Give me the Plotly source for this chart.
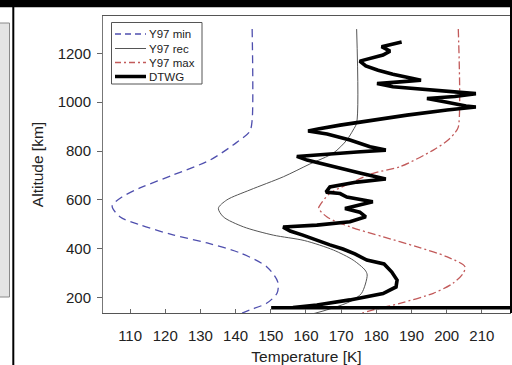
import plotly.graph_objects as go

# ---- data ----
ymin_T = [144.7, 144.7, 144.0, 139.3, 132.7, 122.2, 112.8, 107.7, 104.9, 107.2, 112.8, 122.2, 131.9, 141.3, 148.9, 152.0, 151.8, 148.9, 144.1, 140.4]
ymin_alt = [1299, 927, 880, 825, 763, 702, 649, 612, 575, 530, 498, 457, 424, 383, 326, 264, 219, 178, 150, 129]

yrec_T = [174.4, 174.4, 173.4, 171.6, 167.8, 161.1, 153.6, 144.1, 137.5, 135.1, 136.5, 142.2, 150.7, 159.5, 167.8, 173.4, 176.8, 177.4, 175.8, 172.5, 165.9, 157.4]
yrec_alt = [1299, 915, 886, 845, 792, 747, 695, 641, 600, 566, 531, 490, 456, 434, 395, 354, 313, 293, 218, 184, 150, 117]

ymax_T = [203.3, 203.3, 202.3, 200.4, 196.2, 186.7, 179.1, 172.5, 166.8, 164.0, 163.6, 165.9, 172.5, 182.0, 191.4, 200.0, 205.2, 204.7, 201.8, 196.2, 186.7, 179.1, 172.5]
ymax_alt = [1299, 898, 874, 845, 804, 736, 709, 668, 627, 579, 566, 531, 490, 449, 409, 368, 327, 300, 259, 218, 177, 150, 121]

dtwg_T = [187.2, 181.5, 183.9, 181.9, 175.3, 177.0, 180.5, 184.7, 190.4, 192.7, 186.7, 180.2, 184.7, 196.1, 202.3, 208.3,
          202.3, 194.4, 200.1, 205.5, 208.3, 200.1, 188.7, 179.0, 169.7, 163.4, 160.6, 166.0, 172.5, 178.2, 182.7, 174.5,
          166.0, 157.4, 160.3, 167.7, 175.3, 182.7, 174.5, 166.8, 165.7, 169.7, 171.6, 179.0, 174.5, 171.1, 175.3, 177.0,
          172.5, 163.1, 153.5, 155.5, 159.1, 162.8, 166.8, 170.5, 173.9, 177.3, 182.2, 184.4, 185.9, 185.6, 181.9, 172.5,
          163.1, 156.3, 150.1, 230.0]
dtwg_alt = [1246, 1227, 1209, 1193, 1168, 1148, 1131, 1114, 1097, 1090, 1083, 1076, 1063, 1050, 1041, 1035,
            1023, 1015, 1000, 984, 980, 968, 947, 927, 906, 890, 882, 870, 845, 818, 804, 796,
            788, 778, 763, 736, 710, 686, 673, 653, 632, 626, 612, 593, 579, 565, 550, 531,
            511, 497, 489, 473, 456, 436, 416, 399, 379, 354, 338, 305, 272, 244, 217, 191,
            170, 160, 159, 159]

x_ticks = [110, 120, 130, 140, 150, 160, 170, 180, 190, 200, 210]
y_ticks = [200, 400, 600, 800, 1000, 1200]
legend_names = ["Y97 min", "Y97 rec", "Y97 max", "DTWG"]

BLUE = "#4f4fae"
RED = "#c25a5a"
GREY = "#555555"

W, H = 512, 365
L, R, T, B = 103, 510, 16, 313
PW, PH = R - L, B - T


def px(x):
    return (x - L) / PW


def py(y):
    return (B - y) / PH


fig = go.Figure()
fig.add_trace(go.Scatter(x=ymin_T, y=ymin_alt, mode="lines", name=legend_names[0],
                         line=dict(color=BLUE, width=1.3, dash="8px,5px", shape="spline", smoothing=0.8)))
fig.add_trace(go.Scatter(x=yrec_T, y=yrec_alt, mode="lines", name=legend_names[1],
                         line=dict(color=GREY, width=1, shape="spline", smoothing=0.8)))
fig.add_trace(go.Scatter(x=ymax_T, y=ymax_alt, mode="lines", name=legend_names[2],
                         line=dict(color=RED, width=1.3, dash="8px,3px,2px,3px", shape="spline", smoothing=0.8)))
fig.add_trace(go.Scatter(x=dtwg_T, y=dtwg_alt, mode="lines", name=legend_names[3],
                         line=dict(color="black", width=3.6)))

shapes = []
ann = []
# top black strip
shapes.append(dict(type="rect", xref="paper", yref="paper", x0=px(-5), x1=px(W + 5), y0=py(7.3), y1=py(-5),
                   fillcolor="black", line=dict(width=0), layer="above"))
# left panel remnants
shapes.append(dict(type="rect", xref="paper", yref="paper", x0=px(-2), x1=px(9.5), y0=py(297), y1=py(23),
                   fillcolor="#e4e4e4", line=dict(color="#8a8a8a", width=1), layer="above"))
shapes.append(dict(type="line", xref="paper", yref="paper", x0=px(13.3), x1=px(13.3), y0=py(370), y1=py(6),
                   line=dict(color="black", width=2), layer="above"))
# right edge line
shapes.append(dict(type="line", xref="paper", yref="paper", x0=px(511), x1=px(511), y0=py(313), y1=py(7),
                   line=dict(color="black", width=2), layer="above"))

# manual legend
shapes.append(dict(type="rect", xref="paper", yref="paper", x0=px(111.5), x1=px(202), y0=py(84), y1=py(22.5),
                   fillcolor="white", line=dict(color="#555555", width=1), layer="above"))
rows = [34, 48.5, 62.5, 76.5]
styles = [dict(color=BLUE, width=1.3, dash="6px,4px"),
          dict(color=GREY, width=1),
          dict(color=RED, width=1.3, dash="6px,3px,2px,3px"),
          dict(color="black", width=3.5)]
for yy, st, nm in zip(rows, styles, legend_names):
    shapes.append(dict(type="line", xref="paper", yref="paper", x0=px(115), x1=px(146), y0=py(yy), y1=py(yy),
                       line=st, layer="above"))
    ann.append(dict(text=nm, xref="paper", yref="paper", x=px(147), y=py(yy), xanchor="left", yanchor="middle",
                    showarrow=False, font=dict(size=11.5, color="#222222", family="Liberation Sans, Arial")))

fig.update_layout(
    width=W, height=H,
    margin=dict(l=L, r=W - R, t=T, b=H - B, pad=0),
    paper_bgcolor="white", plot_bgcolor="white",
    showlegend=False,
    shapes=shapes, annotations=ann,
    font=dict(family="Liberation Sans, Arial", color="#222222"),
    xaxis=dict(range=[102.3, 218.0], tickvals=x_ticks, ticktext=[str(v) for v in x_ticks],
               ticks="inside", ticklen=4, tickcolor="#666666", ticklabelstandoff=9,
               showline=True, linecolor="#555555", linewidth=1, mirror=True,
               showgrid=False, zeroline=False, tickfont=dict(size=15),
               title=dict(text="Temperature [K]", font=dict(size=15.5), standoff=9)),
    yaxis=dict(range=[137.4, 1352.6], tickvals=y_ticks, ticktext=[str(v) for v in y_ticks],
               ticks="outside", ticklen=5, tickcolor="#666666", ticklabelstandoff=3,
               showline=True, linecolor="#777777", linewidth=1, mirror=True,
               showgrid=False, zeroline=False, tickfont=dict(size=15),
               title=dict(text="Altitude [km]", font=dict(size=15.5), standoff=10)),
)

fig.write_html("out.html")
